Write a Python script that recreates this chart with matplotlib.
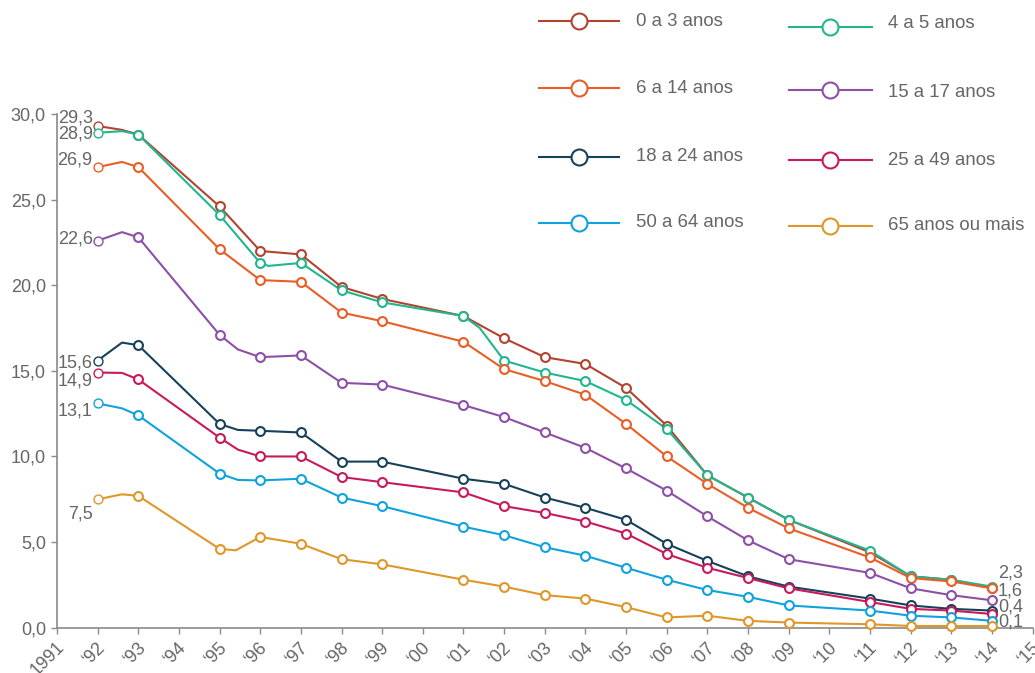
import matplotlib
matplotlib.use("Agg")
import matplotlib.pyplot as plt
from matplotlib.lines import Line2D
from matplotlib.transforms import ScaledTranslation

plt.rcParams['font.family'] = ['Liberation Sans', 'DejaVu Sans']

# ---------------- data ----------------
years = [1992, 1993, 1995, 1996, 1997, 1998, 1999, 2001, 2002, 2003, 2004,
         2005, 2006, 2007, 2008, 2009, 2011, 2012, 2013, 2014]

series_names = ["0 a 3 anos", "4 a 5 anos", "6 a 14 anos", "15 a 17 anos",
                "18 a 24 anos", "25 a 49 anos", "50 a 64 anos", "65 anos ou mais"]

v_0a3 = [29.3, 28.8, 24.6, 22.0, 21.8, 19.9, 19.2, 18.2, 16.9, 15.8, 15.4,
         14.0, 11.8, 8.9, 7.6, 6.3, 4.4, 3.0, 2.8, 2.3]
v_4a5 = [28.9, 28.8, 24.1, 21.3, 21.3, 19.7, 19.0, 18.2, 15.6, 14.9, 14.4,
         13.3, 11.6, 8.9, 7.6, 6.3, 4.5, 3.0, 2.8, 2.4]
v_6a14 = [26.9, 26.9, 22.1, 20.3, 20.2, 18.4, 17.9, 16.7, 15.1, 14.4, 13.6,
          11.9, 10.0, 8.4, 7.0, 5.8, 4.1, 2.9, 2.7, 2.3]
v_15a17 = [22.6, 22.8, 17.1, 15.8, 15.9, 14.3, 14.2, 13.0, 12.3, 11.4, 10.5,
           9.3, 8.0, 6.5, 5.1, 4.0, 3.2, 2.3, 1.9, 1.6]
v_18a24 = [15.6, 16.5, 11.9, 11.5, 11.4, 9.7, 9.7, 8.7, 8.4, 7.6, 7.0,
           6.3, 4.9, 3.9, 3.0, 2.4, 1.7, 1.3, 1.1, 1.0]
v_25a49 = [14.9, 14.5, 11.1, 10.0, 10.0, 8.8, 8.5, 7.9, 7.1, 6.7, 6.2,
           5.5, 4.3, 3.5, 2.9, 2.3, 1.5, 1.1, 1.0, 0.8]
v_50a64 = [13.1, 12.4, 9.0, 8.6, 8.7, 7.6, 7.1, 5.9, 5.4, 4.7, 4.2,
           3.5, 2.8, 2.2, 1.8, 1.3, 1.0, 0.7, 0.6, 0.4]
v_65mais = [7.5, 7.7, 4.6, 5.3, 4.9, 4.0, 3.7, 2.8, 2.4, 1.9, 1.7,
            1.2, 0.6, 0.7, 0.4, 0.3, 0.2, 0.1, 0.1, 0.1]

# unmarked bend points of the drawn lines (year, value)
bends_0a3 = [(1992.6, 29.07)]
bends_4a5 = [(1992.6, 29.0), (1996.2, 21.13), (2001.4, 17.5)]
bends_6a14 = [(1992.6, 27.2)]
bends_15a17 = [(1992.6, 23.1), (1995.45, 16.25)]
bends_18a24 = [(1992.6, 16.65), (1995.45, 11.55)]
bends_25a49 = [(1992.6, 14.88), (1995.45, 10.4)]
bends_50a64 = [(1992.6, 12.81), (1995.45, 8.63)]
bends_65mais = [(1992.6, 7.79), (1995.4, 4.52)]

x_tick_years = list(range(1991, 2016))
x_tick_labels = ["1991"] + ["\u2018%02d" % (y % 100) for y in range(1992, 2016)]
y_ticks = [0, 5, 10, 15, 20, 25, 30]

# ---------------- style ----------------
values = [v_0a3, v_4a5, v_6a14, v_15a17, v_18a24, v_25a49, v_50a64, v_65mais]
bends = [bends_0a3, bends_4a5, bends_6a14, bends_15a17, bends_18a24,
         bends_25a49, bends_50a64, bends_65mais]
colors = ["#b2432f", "#22b68f", "#ea5d27", "#8d4fa8",
          "#17405a", "#c71a5c", "#10a2dc", "#df972a"]

# label pixel offsets (dy) for the first-point labels
left_dy = [8, -1, 7, 2, -2, -8, -8, -15]
# end labels: series index -> dy
right_labels = {0: 15, 3: 9, 6: 14, 7: 4}

W, H = 1035, 673
fig = plt.figure(figsize=(W / 100, H / 100), dpi=100)
ax_left, ax_right, ax_bottom, ax_top = 57, 1032.6, 627.7, 114
ax = fig.add_axes([ax_left / W, 1 - ax_bottom / H,
                   (ax_right - ax_left) / W, (ax_bottom - ax_top) / H])

text_color = "#666666"
fs = 13

for vals, bnd, col in zip(values, bends, colors):
    pts = sorted(list(zip(years, vals)) + list(bnd))
    ax.plot([p[0] for p in pts], [p[1] for p in pts], color=col, lw=1.5,
            solid_joinstyle='round', clip_on=False, zorder=2)
    ax.plot(years[1:], vals[1:], ls='none', marker='o', ms=6.4, mfc='white',
            mec=col, mew=1.5, clip_on=False, zorder=3)
    ax.plot(years[:1], vals[:1], ls='none', marker='o', ms=6.4, mfc='white',
            mec=col, mew=1.0, clip_on=False, zorder=3)

for i, vals in enumerate(values):
    ax.annotate(("%.1f" % vals[0]).replace(".", ","), (years[0], vals[0]),
                xytext=(-5, left_dy[i]), textcoords='offset pixels',
                ha='right', va='center', fontsize=fs, color=text_color, zorder=4)

for i, dy in right_labels.items():
    vals = values[i]
    ax.annotate(("%.1f" % vals[-1]).replace(".", ","), (years[-1], vals[-1]),
                xytext=(6, dy), textcoords='offset pixels',
                ha='left', va='center', fontsize=fs, color=text_color, zorder=4)

ax.set_xlim(1991, 2015)
ax.set_ylim(0, 30)
ax.set_xticks(x_tick_years)
ax.set_xticklabels(x_tick_labels, rotation=45, ha='right', va='center',
                   rotation_mode='anchor')
ax.set_yticks(y_ticks)
ax.set_yticklabels([("%.1f" % v).replace(".", ",") for v in y_ticks])
for s in ['top', 'right']:
    ax.spines[s].set_visible(False)
for s in ['left', 'bottom']:
    ax.spines[s].set_color("#8a8a8a")
    ax.spines[s].set_linewidth(1.2)
ax.tick_params(axis='both', colors="#8a8a8a", labelcolor=text_color,
               labelsize=fs, length=4, width=1.0)
ax.tick_params(axis='x', pad=8)
ax.tick_params(axis='y', pad=4)
ax.patch.set_visible(False)

shift = ScaledTranslation(5 / 100, 0, fig.dpi_scale_trans)
for lab in ax.get_xticklabels():
    lab.set_transform(lab.get_transform() + shift)

# ---------------- legend ----------------
leg_cols = [(539, 619, 579, 636), (789, 872, 830, 888)]
leg_rows_y = [[21, 88.3, 156.7, 222.7], [27.3, 90, 160.3, 226]]
leg_text_y = [[21, 88.3, 156.7, 222.7], [23.3, 92.3, 160.3, 226]]
for i, (name, col) in enumerate(zip(series_names, colors)):
    c, r = i % 2, i // 2
    x1, x2, xm, xt = leg_cols[c]
    y = 1 - leg_rows_y[c][r] / H
    fig.add_artist(Line2D([x1 / W, x2 / W], [y, y], color=col, lw=1.5,
                          transform=fig.transFigure))
    fig.add_artist(Line2D([xm / W], [y], ls='none', marker='o', ms=11.5,
                          mfc='white', mec=col, mew=1.5,
                          transform=fig.transFigure))
    fig.text(xt / W, 1 - leg_text_y[c][r] / H, name, ha='left', va='center',
             fontsize=13.4, color=text_color)

fig.savefig("out.png", dpi=100)
